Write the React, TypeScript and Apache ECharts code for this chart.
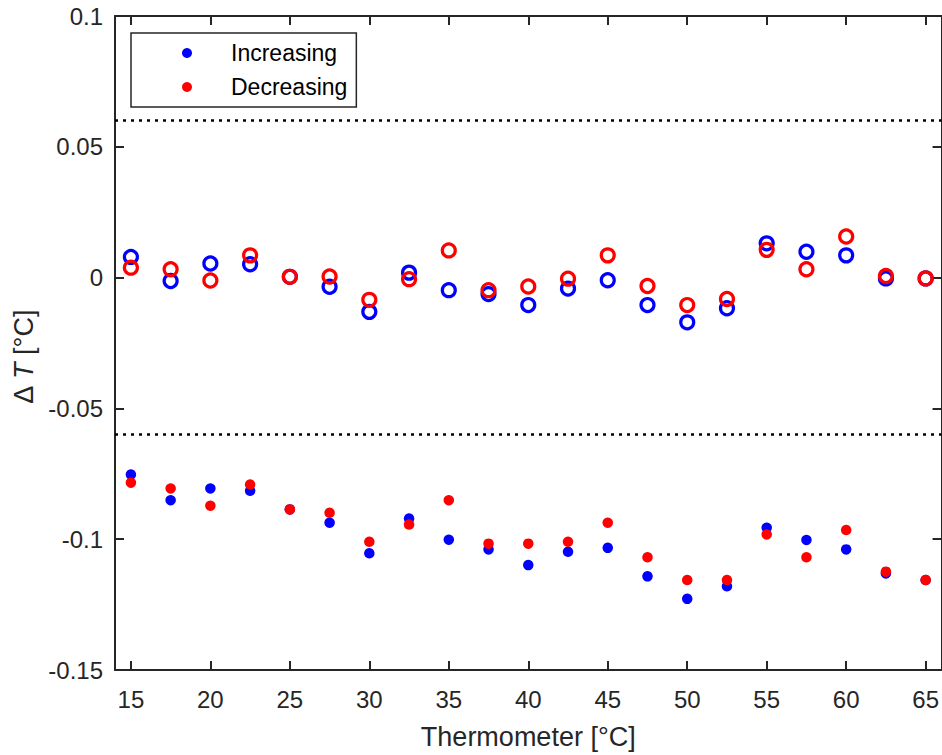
import React, { useEffect, useRef } from "react";
import * as echarts from "echarts";

const temps = [15, 17.5, 20, 22.5, 25, 27.5, 30, 32.5, 35, 37.5, 40, 42.5, 45, 47.5, 50, 52.5, 55, 57.5, 60, 62.5, 65];
const increasingOpen = [0.0079, -0.0013, 0.0054, 0.0051, 0.0003, -0.0035, -0.0131, 0.0019, -0.0048, -0.0063, -0.0105, -0.0042, -0.001, -0.0105, -0.0171, -0.0117, 0.0131, 0.0099, 0.0085, -0.0003, -0.0003];
const decreasingOpen = [0.0038, 0.0032, -0.0011, 0.0085, 0.0003, 0.0004, -0.0085, -0.0006, 0.0104, -0.0048, -0.0034, -0.0004, 0.0085, -0.0032, -0.0105, -0.0082, 0.0106, 0.0032, 0.0157, 0.0006, -0.0003];
const increasingFilled = [-0.0753, -0.0851, -0.0806, -0.0815, -0.0886, -0.0937, -0.1054, -0.0921, -0.1002, -0.1039, -0.1099, -0.1048, -0.1033, -0.1142, -0.1228, -0.118, -0.0956, -0.1003, -0.1039, -0.1131, -0.1156];
const decreasingFilled = [-0.0784, -0.0806, -0.0872, -0.0791, -0.0886, -0.0899, -0.101, -0.0944, -0.0851, -0.1017, -0.1017, -0.101, -0.0937, -0.1069, -0.1156, -0.1156, -0.0982, -0.1069, -0.0965, -0.1124, -0.1156];
const xTicks = [15, 20, 25, 30, 35, 40, 45, 50, 55, 60, 65];
const limitLines = [0.06, -0.06];

const FONT = "'Liberation Sans', Arial, Helvetica, sans-serif";
const AX = "#262626";
const BLUE = "#0000ff";
const RED = "#ff0000";

const pts = (ys: number[]) => temps.map((t, i) => [t, ys[i]]);

export default function App() {
  const ref = useRef<HTMLDivElement>(null);
  useEffect(() => {
    if (!ref.current) return;
    const chart = echarts.init(ref.current, null, { renderer: "svg" });
    const axisCommon = {
      axisLine: { show: true, onZero: false, lineStyle: { color: AX, width: 2 } },
      axisTick: { show: true, inside: true, length: 9, lineStyle: { color: AX, width: 2 } },
      splitLine: { show: false },
    };
    const xBase = {
      type: "value",
      min: 14,
      max: 66,
      ...axisCommon,
      axisTick: { ...axisCommon.axisTick, customValues: xTicks },
    };
    const yBase = {
      type: "value",
      min: -0.15,
      max: 0.1,
      interval: 0.05,
      ...axisCommon,
    };
    const openSym = (color: string, name: string, ys: number[]) => ({
      type: "scatter",
      name,
      data: pts(ys),
      symbol: "circle",
      symbolSize: 13,
      itemStyle: { color: "rgba(255,255,255,0)", borderColor: color, borderWidth: 3.2, opacity: 1 },
      silent: true,
    });
    const filledSym = (color: string, name: string, ys: number[]) => ({
      type: "scatter",
      name,
      data: pts(ys),
      symbol: "circle",
      symbolSize: 10.5,
      itemStyle: { color, opacity: 1 },
      silent: true,
    });
    chart.setOption({
      animation: false,
      backgroundColor: "#ffffff",
      textStyle: { fontFamily: FONT },
      grid: { left: 115, right: -1, top: 16, bottom: 83, containLabel: false },
      legend: {
        data: [
          { name: "Increasing", icon: "circle" },
          { name: "Decreasing", icon: "circle" },
        ],
        orient: "vertical",
        left: 131,
        top: 33,
        padding: [8, 9, 8, 51],
        itemWidth: 10,
        itemHeight: 10,
        itemGap: 10,
        borderColor: AX,
        borderWidth: 1.5,
        backgroundColor: "#ffffff",
        textStyle: { fontFamily: FONT, fontSize: 23, color: "#000", lineHeight: 24, padding: [0, 0, 0, 34] },
        selectedMode: false,
      },
      xAxis: [
        {
          ...xBase,
          position: "bottom",
          axisLabel: {
            customValues: xTicks,
            fontFamily: FONT,
            fontSize: 24,
            color: AX,
            margin: 17,
          },
          name: "Thermometer [°C]",
          nameLocation: "middle",
          nameGap: 53,
          nameTextStyle: { fontFamily: FONT, fontSize: 27, color: AX },
        },
        {
          ...xBase,
          position: "top",
          axisLabel: { show: false },
        },
      ],
      yAxis: [
        {
          ...yBase,
          position: "left",
          axisLabel: {
            fontFamily: FONT,
            fontSize: 24,
            color: AX,
            margin: 12,
            formatter: (v: number) => String(Math.round(v * 100) / 100),
          },
          name: "{a|Δ }{i|T}{a| [°C]}",
          nameLocation: "middle",
          nameGap: 76,
          nameTextStyle: {
            color: AX,
            fontFamily: FONT,
            fontSize: 27,
            padding: [0, 28, 0, 0],
            rich: {
              a: { fontFamily: FONT, fontSize: 27, color: AX },
              i: { fontFamily: FONT, fontSize: 27, fontStyle: "italic", color: AX },
            },
          },
        },
        {
          ...yBase,
          position: "right",
          axisLabel: { show: false },
        },
      ],
      series: [
        openSym(BLUE, "Increasing (open)", increasingOpen),
        filledSym(BLUE, "Increasing", increasingFilled),
        {
          ...openSym(RED, "Decreasing (open)", decreasingOpen),
          markLine: {
            silent: true,
            symbol: "none",
            label: { show: false },
            lineStyle: { color: "#000000", width: 2.5, type: [3, 5] },
            data: limitLines.map((v) => ({ yAxis: v })),
          },
        },
        filledSym(RED, "Decreasing", decreasingFilled),
      ],
    });
    return () => chart.dispose();
  }, []);
  return <div ref={ref} style={{ width: 942, height: 755, position: "absolute", left: 0, top: 0 }} />;
}
